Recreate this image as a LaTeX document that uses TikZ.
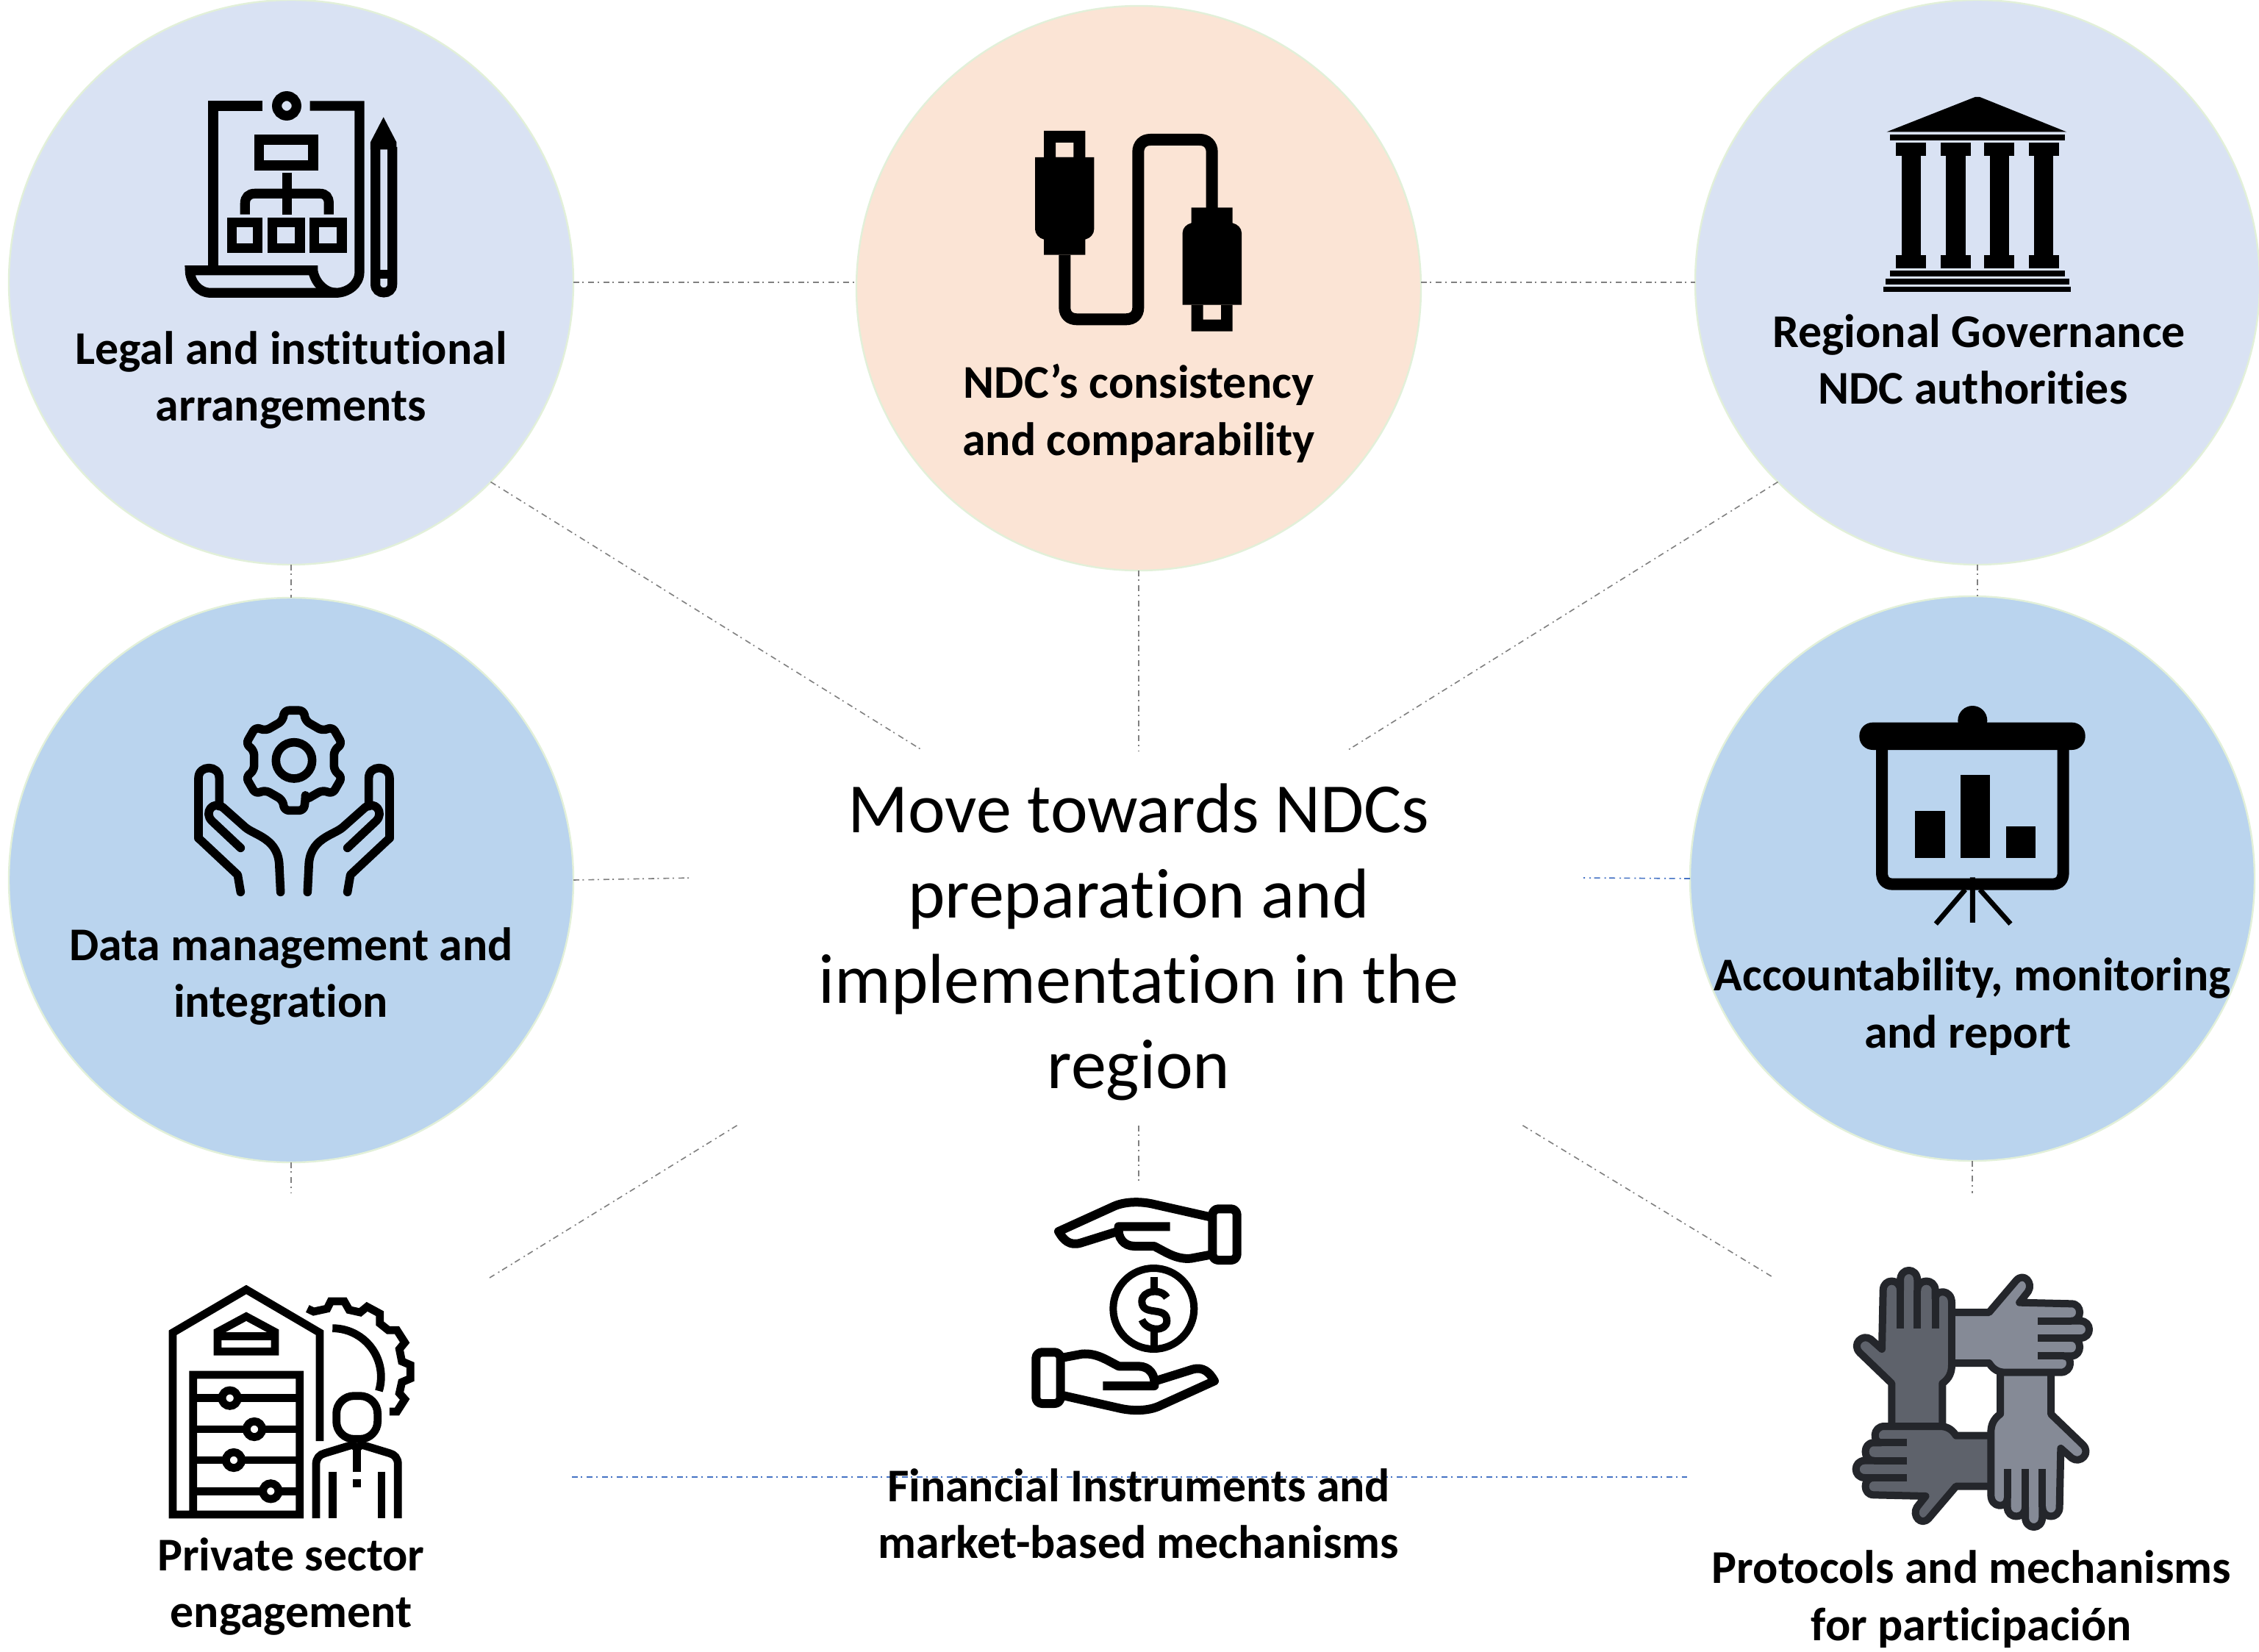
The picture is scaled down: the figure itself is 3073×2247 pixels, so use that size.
\documentclass[tikz,border=0pt]{standalone}
\usepackage{fontspec}
\setmainfont[Ligatures=NoCommon]{Carlito}
\definecolor{paleblue}{HTML}{D9E2F3}
\definecolor{midblue}{HTML}{BAD4EE}
\definecolor{peach}{HTML}{FBE4D5}
\definecolor{rimgreen}{HTML}{E2F0D9}
\definecolor{linkgrey}{HTML}{808080}
\definecolor{linkblue}{HTML}{4472C4}
\definecolor{handdark}{HTML}{5E626B}
\definecolor{handlight}{HTML}{858A96}
\definecolor{handline}{HTML}{24262B}
\tikzset{
  hub/.style={circle,draw=rimgreen,line width=.6pt,minimum size=192pt,inner sep=0pt,outer sep=0pt},
  label/.style={font=\fontsize{15.96}{19.4}\selectfont\bfseries,align=center,inner sep=0pt,text=black},
  link/.style={draw=linkgrey,line width=.4pt,dash pattern=on 2pt off 1.1pt on .5pt off 1.5pt},
  linkb/.style={link,draw=linkblue},
  icn/.style={x=0.08333pt,y=-0.08333pt},
}
\newcommand{\gearhand}{%
  \draw (90,600) -- (90,355) .. controls (90,300) and (175,300) .. (175,355) -- (175,470);
  \draw (262,640) -- (145,530) .. controls (110,495) and (150,445) .. (190,475) -- (280,555)
    .. controls (320,590) and (420,600) .. (420,720) -- (425,820);
  \draw (90,600) -- (250,750) -- (262,820);
}
\newcommand{\moneyhand}{%
  \draw[rounded corners=6pt/3] (808,133) rectangle (908,342);
  \draw (795,165) -- (560,112) .. controls (500,100) and (440,105) .. (400,125) -- (180,225)
    .. controls (200,260) and (225,285) .. (270,272) -- (420,225);
  \draw (635,205) -- (425,205) .. controls (420,250) and (445,285) .. (490,285) -- (570,285)
    .. controls (620,310) and (660,340) .. (720,335) -- (800,320);
}
\newcommand{\onehand}[1]{%
  \filldraw (457,#1) -- (457,545) .. controls (485,525) and (495,500) .. (495,470) -- (495,215)
    .. controls (495,160) and (428,160) .. (428,200) -- (428,165)
    .. controls (428,115) and (355,115) .. (355,165) -- (355,125)
    .. controls (355,70) and (285,70) .. (285,125) -- (285,165)
    .. controls (285,115) and (215,115) .. (215,165) -- (210,405) -- (165,365)
    .. controls (130,340) and (85,385) .. (120,420) -- (250,545) -- (250,#1);
  \draw (285,320) -- (285,165) (355,320) -- (355,165) (428,320) -- (428,200);
}
\begin{document}
\begin{tikzpicture}[x=0.25pt,y=-0.25pt]
\useasboundingbox (0,0) rectangle (3073,2247);
\fill[white] (0,0) rectangle (3073,2247);

% circles
\node[hub,fill=paleblue] (legal) at (396,384) {};
\node[hub,fill=peach] (cons) at (1549,392) {};
\node[hub,fill=paleblue] (gov) at (2690,384) {};
\node[hub,fill=midblue] (data) at (396,1197) {};
\node[hub,fill=midblue] (acc) at (2683,1195) {};

% centre
\node[minimum width=302.8pt,minimum height=127.4pt,inner sep=0pt,outer sep=0pt] (zone) at (1549,1276) {};
\node[inner sep=0pt,align=center,font=\fontsize{24}{29}\selectfont] (title) at (1549,1281)
  {Move towards NDCs\\preparation and\\implementation in the\\region};

% free ends
\coordinate (dataEnd) at (943,1194);
\coordinate (accEnd) at (2154,1194);
\coordinate (dataDown) at (396,1623);
\coordinate (accDown) at (2683,1623);
\coordinate (privEnd) at (666,1738);
\coordinate (finEnd) at (1549,1607);
\coordinate (protEnd) at (2413,1738);
\coordinate (baseL) at (778,2009);
\coordinate (baseR) at (2295,2009);

% connectors
\draw[link] (legal.east) -- (legal.east -| cons.west);
\draw[link] (cons.east |- gov.west) -- (gov.west);
\draw[link] (legal.-45) -- (zone.139);
\draw[link] (cons.south) -- (zone.north);
\draw[link] (gov.225) -- (zone.42);
\draw[link] (legal.south) -- (data.north);
\draw[link] (gov.south) -- (gov.south |- acc.north);
\draw[link] (data.0.4) -- (dataEnd);
\draw[linkb] (acc.west) -- (accEnd);
\draw[link] (data.south) -- (dataDown);
\draw[link] (acc.south) -- (accDown);
\draw[link] (zone.205) -- (privEnd);
\draw[link] (zone.south) -- (finEnd);
\draw[link] (zone.334) -- (protEnd);
\draw[linkb] (baseL) -- (baseR);

% labels
\node[label] (l1) at (396,517) {Legal and institutional\\arrangements};
\node[label] (l2) at (1549,562) {NDC’s consistency\\and comparability};
\node[label] (l3) at (2692,489) {Regional Governance\\\hspace*{-4pt}NDC authorities};
\node[label] (l4) at (396,1328) {Data management and\\integration\hspace*{7pt}};
\node[label] (l5) at (2683,1369) {Accountability, monitoring\\and report\hspace*{3pt}};
\node[label] (l6) at (396,2158) {Private sector\\engagement};
\node[label] (l7) at (1549,2059) {Financial Instruments and\\market-based mechanisms};
\node[label] (l8) at (2682,2175) {Protocols and mechanisms\\for participación};

% icon: legal
\begin{scope}[shift={(200,100)},icn,line width=3.3pt]
  \draw (472,132) -| (270,803);
  \draw (665,132) -| (867,810) .. controls (867,860) and (820,895) .. (770,895) -- (260,895)
    .. controls (210,895) and (175,850) .. (175,803) -- (697,803);
  \draw (678,810) .. controls (690,860) and (730,895) .. (770,895);
  \draw (570,132) circle[radius=40];
  \draw (458,270) rectangle (678,375);
  \draw (571,405) -- (571,575);
  \draw (400,575) -- (400,530) .. controls (400,505) and (415,490) .. (440,490) -- (705,490)
    .. controls (730,490) and (742,505) .. (742,530) -- (742,575);
  \draw (347,607) rectangle (452,712);
  \draw (511,607) rectangle (624,712);
  \draw (683,607) rectangle (795,712);
  \fill (912,280) -- (965,178) -- (1018,280) -- (1018,310) -- (912,310) -- cycle;
  \draw (932,300) -- (932,860) .. controls (932,905) and (1001,905) .. (1001,860) -- (1001,300);
  \fill (932,800) rectangle (1001,838);
\end{scope}

% icon: cable
\begin{scope}[shift={(1360,150)},icn]
  \draw[line width=4pt] (265,590) -- (265,805) .. controls (265,835) and (285,853) .. (315,853)
    -- (515,853) .. controls (545,853) and (565,835) .. (565,805) -- (565,170)
    .. controls (565,140) and (585,120) .. (615,120) -- (816,120)
    .. controls (846,120) and (866,140) .. (866,170) -- (866,400);
  \fill[even odd rule] (180,84) rectangle (349,192) (228,132) rectangle (301,192);
  \fill (144,192) -- (385,192) -- (385,485) .. controls (385,505) and (370,522) .. (349,527)
    -- (349,590) -- (180,590) -- (180,527) .. controls (160,522) and (144,505) .. (144,485) -- cycle;
  \fill (782,397) -- (950,397) -- (950,460) .. controls (970,465) and (987,480) .. (987,500)
    -- (987,794) -- (746,794) -- (746,500) .. controls (746,480) and (762,465) .. (782,460) -- cycle;
  \fill[even odd rule] (782,794) rectangle (950,902) (830,794) rectangle (903,854);
\end{scope}

% icon: temple
\begin{scope}[shift={(2530,110)},icn]
  \fill (110,208) -- (470,66) -- (490,66) -- (843,208) -- cycle;
  \fill (123,220) rectangle (836,243);
  \foreach \a/\b/\c/\d in {148/270/170/248,330/452/352/432,508/631/531/610,689/812/712/790}{
    \fill (\a,253) rectangle (\b,305);
    \fill (\c,305) rectangle (\d,712);
    \fill (\a,712) rectangle (\b,765);
  }
  \fill (123,774) rectangle (836,797);
  \fill (104,807) rectangle (855,830);
  \fill (97,839) rectangle (862,862);
\end{scope}

% icon: gear in hands
\begin{scope}[shift={(240,940)},icn,line width=2.9pt,line cap=round,line join=round]
  \begin{scope}[shift={(480,283)}]
    \draw[rounded corners=1.6pt] (74:168)
      foreach \a in {90,150,210,270,330,390}{ -- (\a-16:168) -- (\a-11:208) -- (\a+11:208) -- (\a+16:168) } -- cycle;
    \draw (0,0) circle[radius=74];
  \end{scope}
  \gearhand
  \begin{scope}[shift={(960,0)},xscale=-1]
    \gearhand
  \end{scope}
\end{scope}

% icon: screen
\begin{scope}[shift={(2500,950)},icn]
  \fill[rounded corners=4.5pt] (88,98) rectangle (1010,210);
  \fill (550,90) circle[radius=60];
  \draw[line width=4pt] (180,200) -- (180,710) .. controls (180,740) and (195,758) .. (225,758)
    -- (875,758) .. controls (905,758) and (920,740) .. (920,710) -- (920,200);
  \fill (316,460) rectangle (437,650);
  \fill (501,312) rectangle (622,650);
  \fill (686,522) rectangle (806,650);
  \draw[line width=1.7pt] (550,730) -- (550,915) (520,780) -- (400,920) (580,780) -- (705,920);
\end{scope}

% icon: private sector
\begin{scope}[shift={(200,1740)},icn,line width=2.7pt,miter limit=10]
  \draw (705,660) -- (705,218) -- (405,42) -- (105,218) -- (105,960) -- (623,960) -- (623,390) -- (188,390) -- (188,960);
  \draw (288,295) -- (288,215) -- (405,152) -- (522,215) -- (522,295) -- cycle;
  \draw (288,232) -- (522,232);
  \foreach \y/\x in {485/338,612/438,738/354,865/505}{
    \draw (188,\y) -- (623,\y);
    \draw[fill=white] (\x,\y) circle[radius=32];
  }
  \draw (655,120) -- (680,132) -- (735,120) -- (750,90) -- (805,90) -- (825,125) -- (870,135) -- (898,112)
    -- (950,140) -- (950,180) -- (985,208) -- (1020,208) -- (1052,258) -- (1030,285) -- (1040,335)
    -- (1075,350) -- (1075,405) -- (1040,420) -- (1030,465) -- (1052,490) -- (1020,540) -- (990,540);
  \draw (757,200) arc[start angle=-90,end angle=17,radius=198];
  \draw[rounded corners=6pt] (773,476) rectangle (941,652);
  \draw (690,975) -- (690,755) .. controls (690,730) and (705,715) .. (725,710) -- (840,675) -- (857,690)
    -- (875,675) -- (990,710) .. controls (1010,715) and (1024,730) .. (1024,755) -- (1024,975);
  \draw (857,690) -- (857,785);
  \fill (840,817) rectangle (874,850);
  \draw (757,785) -- (757,975);
  \draw (957,785) -- (957,975);
\end{scope}

% icon: money
\begin{scope}[shift={(1380,1600)},icn,line width=3pt,line join=round]
  \moneyhand
  \begin{scope}[shift={(996,1060)},xscale=-1,yscale=-1]
    \moneyhand
  \end{scope}
  \draw[line width=2.5pt] (568,540) circle[radius=165];
  \draw[line width=2.5pt] (622,495) .. controls (600,455) and (520,465) .. (520,510)
    .. controls (520,575) and (622,525) .. (622,590) .. controls (622,635) and (540,635) .. (520,585);
  \draw[line width=2.5pt] (570,410) -- (570,462) (570,625) -- (570,690);
\end{scope}

% icon: four hands
\begin{scope}[shift={(2490,1700)},icn,line width=2.5pt,draw=handline,line join=round]
  \begin{scope}[fill=handdark]
    \onehand{712}
  \end{scope}
  \begin{scope}[fill=handdark,shift={(29.7,1215)},x={(0pt,0.08333pt)},y={(0.07383pt,0pt)}]
    \onehand{700}
  \end{scope}
  \begin{scope}[fill=handlight,shift={(1150,1215)},x={(-0.08333pt,0pt)},y={(0pt,0.08333pt)}]
    \onehand{712}
  \end{scope}
  \begin{scope}[fill=handlight,shift={(1130.3,5)},x={(0pt,-0.08333pt)},y={(-0.07383pt,0pt)}]
    \onehand{700}
  \end{scope}
\end{scope}
\end{tikzpicture}
\end{document}
